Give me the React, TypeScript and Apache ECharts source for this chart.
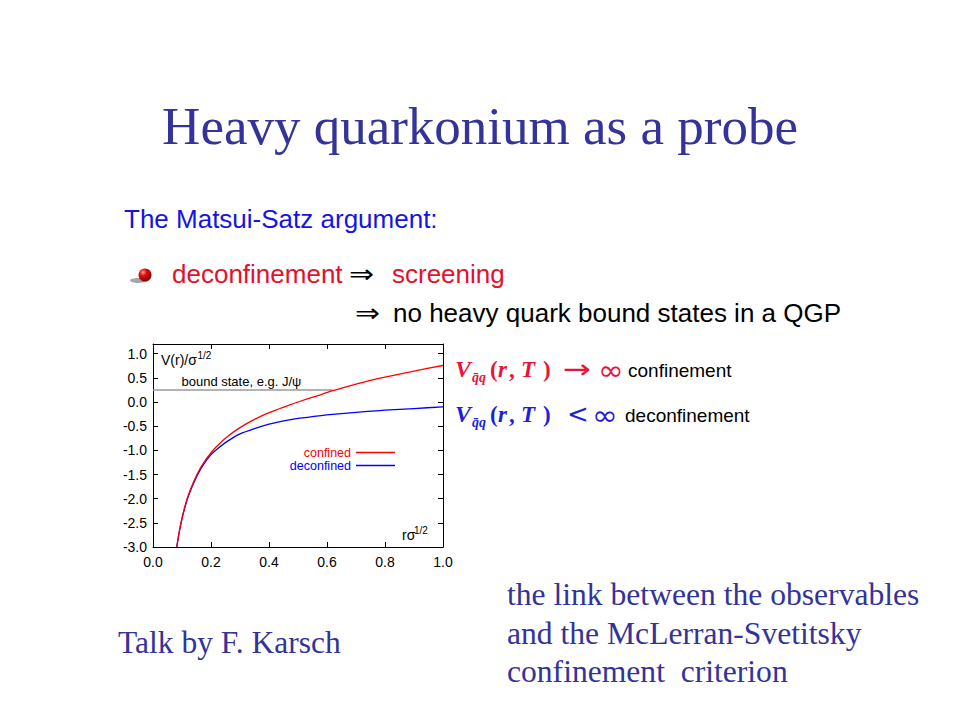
import React, { useEffect, useRef } from 'react';
import * as echarts from 'echarts';

// r * sigma^{1/2}
const rValues = [0.082, 0.09, 0.1, 0.11, 0.12, 0.135, 0.15, 0.17, 0.2, 0.23, 0.26, 0.3, 0.35, 0.4, 0.46, 0.5, 0.58, 0.62, 0.66, 0.74, 0.8, 0.9, 1.0];
// V(r)/sigma^{1/2}
const confinedV = [-3.0, -2.7, -2.4, -2.16, -1.96, -1.72, -1.52, -1.3, -1.05, -0.86, -0.7, -0.53, -0.36, -0.22, -0.085, 0.0, 0.155, 0.235, 0.305, 0.43, 0.515, 0.64, 0.755];
const deconfinedV = [-3.0, -2.71, -2.42, -2.18, -1.98, -1.75, -1.55, -1.33, -1.09, -0.93, -0.8, -0.66, -0.55, -0.46, -0.38, -0.34, -0.28, -0.255, -0.235, -0.195, -0.17, -0.135, -0.1];
const boundX = [0, 0.62];
const boundY = [0.25, 0.25];
const seriesNames = ['confined', 'deconfined'];
const seriesColors = ['#ff0000', '#0000ff'];

const SERIF = "'Liberation Serif', 'Times New Roman', serif";
const SANS = "'Liberation Sans', Arial, Helvetica, sans-serif";
const SYM = "'DejaVu Sans', sans-serif";
const SLIDE_BLUE = '#333399';
const F_RED = '#e8143a';
const F_BLUE = '#1e1ed8';

function txt(text: string, x: number, y: number, o: any = {}) {
  const el: any = {
    type: 'text',
    x,
    y,
    silent: true,
    style: {
      text,
      fill: o.fill || '#000',
      fontFamily: o.family || SANS,
      fontSize: o.size || 13,
      fontWeight: o.weight || 'normal',
      fontStyle: o.style || 'normal',
      align: o.align || 'left',
      verticalAlign: 'middle',
      textAlign: o.align || 'left',
      textVerticalAlign: 'middle',
    },
  };
  if (o.scaleX) el.scaleX = o.scaleX;
  return el;
}

function formulaLine(y: number, color: string, rel: string, relX: number, relScale: number, infX: number, word: string, wordX: number) {
  const bi = { family: SERIF, weight: 'bold', style: 'italic', fill: color, size: 23 };
  const b = { family: SERIF, weight: 'bold', fill: color, size: 23 };
  return [
    txt('V', 455, y, { ...bi, size: 24 }),
    txt('q\u0304q', 472, y + 8, { ...bi, size: 14 }),
    txt('(', 490, y, b),
    txt('r', 498, y, bi),
    txt(',', 509, y, b),
    txt('T', 521, y, bi),
    txt(')', 543, y, b),
    txt(rel, relX, y, { family: SYM, fill: color, size: 26, scaleX: relScale }),
    txt('\u221e', infX, y + 1, { family: SYM, fill: color, size: 28, scaleX: 1.1 }),
    txt(word, wordX, y + 1, { family: SANS, fill: '#000', size: 19 }),
  ];
}

export default function App() {
  const ref = useRef<HTMLDivElement>(null);
  useEffect(() => {
    if (!ref.current) return;
    const chart = echarts.init(ref.current, null, { renderer: 'svg' });
    const axisLine = { show: true, onZero: false, lineStyle: { color: '#000', width: 1 } };
    const tick = { show: true, inside: true, length: 5, lineStyle: { color: '#000' } };
    const labelStyle = { color: '#000', fontFamily: SANS, fontSize: 14 };
    const fmt = (v: number) => v.toFixed(1);

    const graphic: any[] = [
      txt('Heavy quarkonium as a probe', 480, 126, { family: SERIF, size: 53, fill: SLIDE_BLUE, align: 'center' }),
      txt('The Matsui-Satz argument:', 124, 219, { family: SANS, size: 26, fill: '#1414e6' }),
      { type: 'ellipse', silent: true, shape: { cx: 138, cy: 280.5, rx: 8, ry: 2.5 }, style: { fill: 'rgba(0,0,0,0.35)' } },
      {
        type: 'circle',
        silent: true,
        shape: { cx: 145, cy: 275, r: 6.5 },
        style: {
          fill: new echarts.graphic.RadialGradient(0.35, 0.3, 0.75, [
            { offset: 0, color: '#ff9a9a' },
            { offset: 0.35, color: '#e01010' },
            { offset: 1, color: '#7a0000' },
          ]),
        },
      },
      txt('deconfinement', 172, 274, { family: SANS, size: 26, fill: '#e4102c' }),
      txt('\u21d2', 349, 274, { family: SYM, size: 26, fill: '#000', scaleX: 1.15 }),
      txt('screening', 392, 274, { family: SANS, size: 26, fill: '#e4102c' }),
      txt('\u21d2', 355, 313, { family: SYM, size: 26, fill: '#000', scaleX: 1.15 }),
      txt('no heavy quark bound states in a QGP', 393, 313, { family: SANS, size: 26, fill: '#000' }),
      ...formulaLine(369, F_RED, '\u2192', 563, 1.3, 598, 'confinement', 628),
      ...formulaLine(414, F_BLUE, '<', 567, 1.0, 592, 'deconfinement', 625),
      // in-plot annotations
      txt('V(r)/\u03c3', 161, 360, { size: 14 }),
      txt('1/2', 197.5, 355, { size: 10 }),
      txt('bound state, e.g. J/\u03c8', 181.5, 381.5, { size: 13 }),
      txt('r\u03c3', 402, 535, { size: 14 }),
      txt('1/2', 414, 530, { size: 10 }),
      // slide footer
      txt('Talk by F. Karsch', 118, 642, { family: SERIF, size: 31.5, fill: SLIDE_BLUE }),
      txt('the link between the observables', 507, 594.5, { family: SERIF, size: 31.6, fill: SLIDE_BLUE }),
      txt('and the McLerran-Svetitsky', 507, 633, { family: SERIF, size: 31.6, fill: SLIDE_BLUE }),
      txt('confinement  criterion', 507, 671, { family: SERIF, size: 31.6, fill: SLIDE_BLUE }),
    ];

    chart.setOption({
      animation: false,
      backgroundColor: '#ffffff',
      grid: { left: 153, top: 344, width: 290, height: 203, containLabel: false },
      legend: {
        orient: 'vertical',
        right: 565,
        top: 446,
        align: 'right',
        icon: 'rect',
        itemWidth: 39,
        itemHeight: 1.3,
        itemGap: 0,
        padding: 0,
        selectedMode: false,
        textStyle: { fontFamily: SANS, fontSize: 12.5, lineHeight: 12.5 },
        data: seriesNames.map((n, i) => ({ name: n, textStyle: { color: seriesColors[i] } })),
      },
      xAxis: [
        {
          type: 'value', min: 0, max: 1, interval: 0.2, position: 'bottom',
          axisLine, axisTick: tick, splitLine: { show: false },
          axisLabel: { ...labelStyle, margin: 8, formatter: fmt },
        },
        {
          type: 'value', min: 0, max: 1, interval: 0.2, position: 'top',
          axisLine, axisTick: tick, splitLine: { show: false }, axisLabel: { show: false },
        },
      ],
      yAxis: [
        {
          type: 'value', min: -3, max: 1.2, interval: 0.5, position: 'left',
          axisLine, axisTick: tick, splitLine: { show: false },
          axisLabel: { ...labelStyle, margin: 6, formatter: fmt, showMaxLabel: false },
        },
        {
          type: 'value', min: -3, max: 1.2, interval: 0.5, position: 'right',
          axisLine, axisTick: tick, splitLine: { show: false }, axisLabel: { show: false },
        },
      ],
      series: [
        {
          name: 'bound state',
          type: 'line',
          data: boundX.map((x, i) => [x, boundY[i]]),
          symbol: 'none',
          lineStyle: { color: '#9a9a9a', width: 1.5 },
          silent: true,
          z: 1,
        },
        {
          name: seriesNames[0],
          type: 'line',
          data: rValues.map((x, i) => [x, confinedV[i]]),
          symbol: 'none',
          smooth: 0.25,
          color: seriesColors[0],
          itemStyle: { color: seriesColors[0] },
          lineStyle: { color: seriesColors[0], width: 1.3 },
          z: 3,
        },
        {
          name: seriesNames[1],
          type: 'line',
          data: rValues.map((x, i) => [x, deconfinedV[i]]),
          symbol: 'none',
          smooth: 0.25,
          color: seriesColors[1],
          itemStyle: { color: seriesColors[1] },
          lineStyle: { color: seriesColors[1], width: 1.3 },
          z: 2,
        },
      ],
      graphic,
    });
    return () => chart.dispose();
  }, []);
  return <div ref={ref} style={{ position: 'absolute', left: 0, top: 0, width: 960, height: 720, background: '#fff' }} />;
}
